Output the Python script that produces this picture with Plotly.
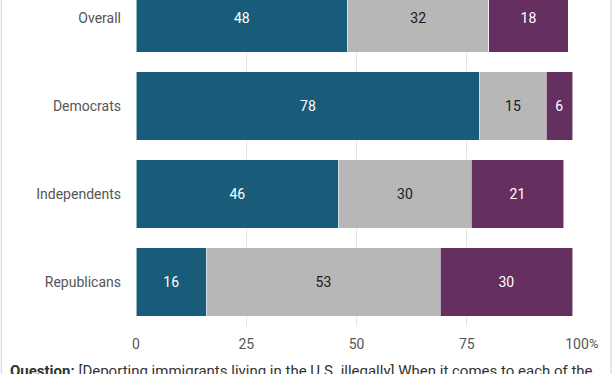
import plotly.graph_objects as go

categories = ["Overall", "Democrats", "Independents", "Republicans"]
series_names = ["Support", "Neither", "Oppose"]
support = [48, 78, 46, 16]
neither = [32, 15, 30, 53]
oppose = [18, 6, 21, 30]
tick_vals = [0, 25, 50, 75, 100]
tick_text = ["0", "25", "50", "75", "100"]
caption = "<b>Question:</b> [Deporting immigrants living in the U.S. illegally] When it comes to each of the"

colors = ["#185c7a", "#b7b7b7", "#652f60"]
text_colors = ["#ffffff", "#1a1a1a", "#ffffff"]

W, H = 612, 374
L, R = 135.5, 577.0
T, B = 0, 326.0

fig = go.Figure()
for name, vals, c, tc in zip(series_names, [support, neither, oppose], colors, text_colors):
    fig.add_trace(go.Bar(
        y=categories, x=vals, name=name, orientation="h",
        marker=dict(color=c, line=dict(color="rgba(255,255,255,0.55)", width=1)),
        text=[str(v) for v in vals], textposition="inside",
        insidetextanchor="middle", constraintext="none",
        textfont=dict(family="Roboto", size=14, color=tc),
        hoverinfo="skip",
    ))

pw = R - L
ph = B - T
def px(x):
    return (x - L) / pw
def py(y):
    return (B - y) / ph

fig.update_layout(
    width=W, height=H,
    barmode="stack", bargap=0.227,
    showlegend=False,
    paper_bgcolor="white", plot_bgcolor="white",
    margin=dict(l=L, r=W - R, t=T, b=H - B, pad=0, autoexpand=False),
    font=dict(family="Roboto", size=14, color="#555555"),
    xaxis=dict(range=[0, 100], tickvals=tick_vals, ticktext=tick_text,
               showgrid=True, gridcolor="#e3e3e3", gridwidth=1,
               zeroline=False, showline=False, ticks="", automargin=False,
               tickfont=dict(family="Roboto", size=14, color="#555555"),
               ticklabelstandoff=8, fixedrange=True),
    yaxis=dict(type="category", categoryarray=categories,
               range=[3.5, -0.2045], showgrid=False, zeroline=False,
               ticks="", ticklabelstandoff=14, automargin=False,
               tickfont=dict(family="Roboto", size=14, color="#555555"),
               fixedrange=True),
    annotations=[
        dict(text="%", x=100, y=py(344), xref="x", yref="paper", xanchor="left",
             yanchor="middle", xshift=10, showarrow=False,
             font=dict(family="Roboto", size=13, color="#555555")),
        dict(text=caption, x=px(7), y=py(360),
             xref="paper", yref="paper", xanchor="left", yanchor="top",
             showarrow=False, align="left",
             font=dict(family="Roboto", size=15, color="#333333")),
    ],
    shapes=[
        dict(type="line", xref="paper", yref="paper", x0=px(0.8), x1=px(0.8),
             y0=-1, y1=2, line=dict(color="#dddddd", width=1.5)),
        dict(type="line", xref="paper", yref="paper", x0=px(611), x1=px(611),
             y0=-1, y1=2, line=dict(color="#dddddd", width=1.5)),
    ],
)

fig.write_html("out.html",
               config={"displayModeBar": False, "staticPlot": True},
               post_script="document.body.style.margin='0';document.body.style.overflow='hidden';")
